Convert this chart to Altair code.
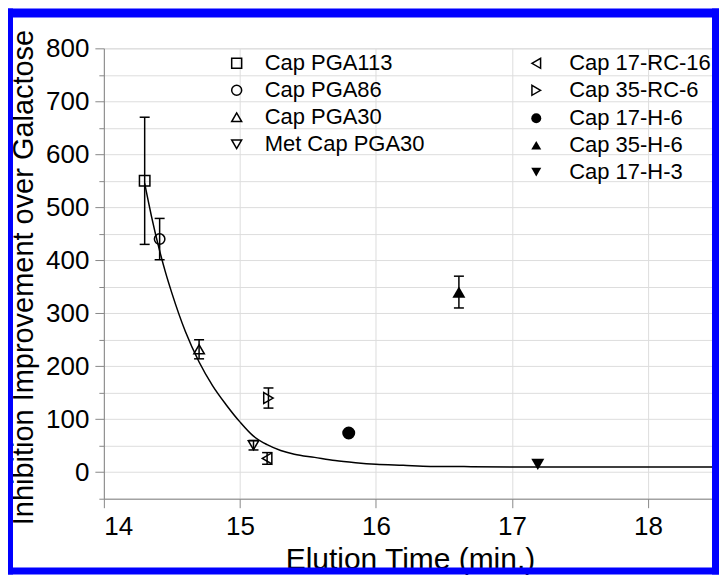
import altair as alt
import pandas as pd

# ---------------- data ----------------
series = ["Cap PGA113", "Cap PGA86", "Cap PGA30", "Met Cap PGA30",
          "Cap 17-RC-16", "Cap 35-RC-6", "Cap 17-H-6", "Cap 35-H-6", "Cap 17-H-3"]
elution = [14.30, 14.41, 14.70, 15.10, 15.20, 15.21, 15.80, 16.61, 17.19]
improvement = [550, 440, 232, 51, 26, 140, 74, 340, 15]
error = [120, 39, 18, 9, 11, 19, 0, 30, 0]

# fitted decay curve
curve_x = [14.30, 14.35, 14.40, 14.45, 14.50, 14.60, 14.70, 14.80, 14.90, 15.00,
           15.10, 15.20, 15.30, 15.40, 15.55, 15.70, 15.85, 16.00, 16.20, 16.40,
           16.70, 17.00, 17.50, 18.00, 18.50]
curve_y = [545, 483, 428, 380, 338, 265, 208, 163, 127, 95,
           68, 52, 41, 34, 28, 22, 18, 15, 13, 11,
           10.5, 10, 10, 10, 10]

x_ticks = [14, 14.5, 15, 15.5, 16, 16.5, 17, 17.5, 18, 18.5]
y_ticks = [-50, 0, 50, 100, 150, 200, 250, 300, 350, 400, 450, 500, 550, 600, 650, 700, 750, 800]

group_a = ["Cap PGA113", "Cap PGA86", "Cap PGA30", "Met Cap PGA30"]
shapes_a = ["square", "circle", "triangle-up", "triangle-down"]
group_b = ["Cap 17-RC-16", "Cap 35-RC-6"]
shapes_b = ["triangle-left", "triangle-right"]
group_c = ["Cap 17-H-6", "Cap 35-H-6", "Cap 17-H-3"]
shapes_c = ["circle", "triangle-up", "triangle-down"]

df = pd.DataFrame({"series": series, "x": elution, "y": improvement, "err": error})
df["lo"] = df["y"] - df["err"]
df["hi"] = df["y"] + df["err"]
err_df = df[df["err"] > 0]
curve_df = pd.DataFrame({"x": curve_x, "y": curve_y})

# ---------------- styling ----------------
FONT = "Liberation Sans"
BLUE = "#0000ff"
W, H = 613, 451

xs = alt.Scale(domain=[14, 18.5], nice=False, zero=False)
ys = alt.Scale(domain=[-50, 800], nice=False, zero=False)

x_axis = alt.Axis(
    title="Elution Time (min.)", values=x_ticks, format="d",
    labelExpr="datum.value % 1 === 0 ? datum.label : ''",
    tickSize={"condition": {"test": "datum.value % 1 === 0", "value": 9}, "value": 5},
    labelFontSize=26, labelPadding=6, labelOverlap=False,
    titleFontSize=30, titleFontWeight="normal",
    titleX=W / 2, titleY=70, titleBaseline="alphabetic",
)
y_axis = alt.Axis(
    title="Inhibition Improvement over Galactose", values=y_ticks, format="d",
    labelExpr="datum.value % 100 === 0 ? datum.label : ''",
    tickSize={"condition": {"test": "datum.value % 100 === 0", "value": 9}, "value": 5},
    labelFontSize=26, labelPadding=6, labelOverlap=False,
    titleFontSize=29, titleFontWeight="normal",
    titleX=-80, titleY=229, titleBaseline="middle", titleAngle=270,
)

x_enc = alt.X("x:Q", scale=xs, axis=x_axis)


def legend(lx, ly, fill, offset):
    return alt.Legend(
        title=None, orient="none", legendX=lx, legendY=ly, padding=0,
        labelFont=FONT, labelFontSize=22, labelColor="black", labelOffset=offset,
        labelLimit=0, rowPadding=5, symbolSize=100, symbolStrokeWidth=1.5,
        symbolStrokeColor="black", symbolFillColor=fill,
    )


curve = alt.Chart(curve_df).mark_line(
    color="black", strokeWidth=1.5, interpolate="monotone"
).encode(x=x_enc, y=alt.Y("y:Q", scale=ys, axis=y_axis))

err_rule = alt.Chart(err_df).mark_rule(color="black", strokeWidth=1.5).encode(
    x=x_enc, y=alt.Y("lo:Q", scale=ys, axis=y_axis), y2="hi:Q")
cap_lo = alt.Chart(err_df).mark_tick(
    orient="horizontal", size=10, thickness=1.5, color="black", opacity=1
).encode(x=x_enc, y=alt.Y("lo:Q", scale=ys, axis=y_axis))
cap_hi = alt.Chart(err_df).mark_tick(
    orient="horizontal", size=10, thickness=1.5, color="black", opacity=1
).encode(x=x_enc, y=alt.Y("hi:Q", scale=ys, axis=y_axis))


def points(names, shapes, filled, size, lx, ly, offset):
    mark = dict(filled=filled, color="black", size=size, opacity=1)
    if not filled:
        mark["strokeWidth"] = 1.5
    return alt.Chart(df).transform_filter(
        alt.FieldOneOfPredicate(field="series", oneOf=names)
    ).mark_point(**mark).encode(
        x=x_enc,
        y=alt.Y("y:Q", scale=ys, axis=y_axis),
        shape=alt.Shape("series:N", scale=alt.Scale(domain=names, range=shapes),
                        legend=legend(lx, ly, "black" if filled else "transparent", offset)),
    )


pts_a = points(group_a, shapes_a, False, 110, 122, 4, 17)
pts_b = points(group_b, shapes_b, False, 120, 422, 4, 22)
pts_c = points(group_c, shapes_c, True, 170, 422, 59, 22)

frame_src = alt.Data(values=[{"frame": 1}])


def band(x1, x2, y1, y2):
    return alt.Chart(frame_src).mark_rect(color=BLUE, opacity=1).encode(
        x=alt.value(x1), x2=alt.value(x2), y=alt.value(y1), y2=alt.value(y2))


frame = [
    band(-96, 616, -40, -31),   # top
    band(-96, 616, 520, 527),   # bottom
    band(-96, -91, -40, 527),   # left
    band(609, 616, -40, 527),   # right
]

chart = alt.layer(
    curve, err_rule, cap_lo, cap_hi, pts_a, pts_b, pts_c, *frame
).resolve_scale(shape="independent").properties(
    width=W, height=H,
    autosize=alt.AutoSizeParams(type="none"),
    padding={"left": 96, "top": 40, "right": 3, "bottom": 76},
).configure_view(
    stroke="black", strokeWidth=2
).configure_axis(
    grid=False, domainColor="black", domainWidth=2, tickColor="black", tickWidth=2,
    labelFont=FONT, titleFont=FONT, labelColor="black", titleColor="black",
    titleFontWeight="normal",
).configure(background="white")

chart.save("out.html", embed_options={"renderer": "svg", "actions": False})
